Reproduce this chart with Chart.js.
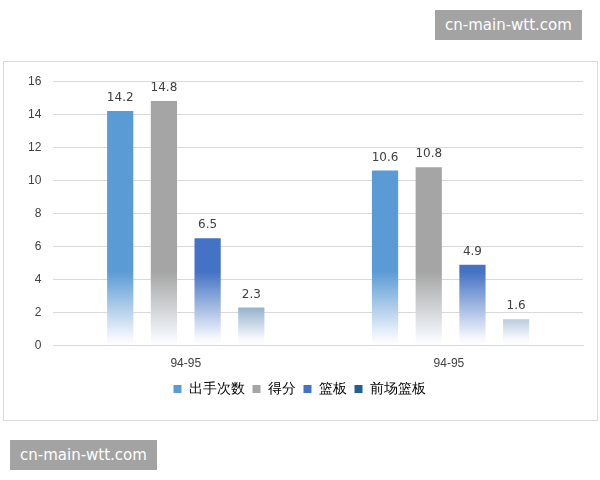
<!DOCTYPE html>
<html>
<head>
<meta charset="utf-8">
<script src="https://cdn.jsdelivr.net/npm/chart.js@4"></script>
<style>
body{margin:0;background:#fff;width:600px;height:480px;position:relative;font-family:"Noto Sans CJK SC","DejaVu Sans",sans-serif}
#box{position:absolute;left:3px;top:61px;width:593px;height:358px;border:1px solid #d9d9d9}
.wm{position:absolute;background:#9a9a9a;color:#fff;font:15px "DejaVu Sans",sans-serif;padding:6px 10px;opacity:.9}
</style>
</head>
<body>
<div id="box"><canvas id="c" width="593" height="358"></canvas></div>
<div class="wm" style="left:435px;top:10px">cn-main-wtt.com</div>
<div class="wm" style="left:10px;top:440px">cn-main-wtt.com</div>
<script>
//data
let categories = ['94-95', '94-95 ']
let seriesNames = ['出手次数', '得分', '篮板', '前场篮板']
let shots = [14.2, 10.6]
let points = [14.8, 10.8]
let rebounds = [6.5, 4.9]
let offRebounds = [2.3, 1.6]
let colors = ['#5b9bd5', '#a5a5a5', '#4472c4', '#255e91']

const fade = (color) => (context) => {
	let chart = context.chart
	let area = chart.chartArea
	if (!area) return color
	let g = chart.ctx.createLinearGradient(0, area.top, 0, area.bottom)
	g.addColorStop(0, color)
	g.addColorStop(0.72, color)
	g.addColorStop(0.97, '#f4f7fc')
	g.addColorStop(1, '#ffffff')
	return g
}

const valueLabels = {
	id: 'valueLabels',
	afterDatasetsDraw(chart) {
		let ctx = chart.ctx
		ctx.save()
		ctx.font = '12px "DejaVu Sans", sans-serif'
		ctx.fillStyle = '#404040'
		ctx.textAlign = 'center'
		chart.data.datasets.forEach((ds, i) => {
			chart.getDatasetMeta(i).data.forEach((bar, j) => {
				ctx.fillText(ds.data[j], bar.x, bar.y - 13)
			})
		})
		ctx.restore()
	}
}

let allSeries = [shots, points, rebounds, offRebounds]
new Chart(document.getElementById('c'), {
	type: 'bar',
	data: {
		labels: categories,
		datasets: allSeries.map((d, i) => ({
			label: seriesNames[i],
			data: d,
			backgroundColor: fade(colors[i]),
			borderWidth: 0
		}))
	},
	options: {
		responsive: false,
		animation: false,
		layout: {padding: {left: 12, right: 14, top: 18, bottom: 14}},
		categoryPercentage: 0.66,
		barPercentage: 0.6,
		plugins: {
			legend: {
				position: 'bottom',
				labels: {boxWidth: 8, boxHeight: 8, color: '#404040', font: {size: 14}, padding: 8,
					generateLabels: (chart) => seriesNames.map((n, i) => ({text: n, fillStyle: colors[i], strokeStyle: colors[i], lineWidth: 0, datasetIndex: i}))}
			},
			tooltip: {enabled: false}
		},
		scales: {
			x: {grid: {display: false}, border: {color: '#d9d9d9'}, ticks: {color: '#404040', font: {size: 12}}},
			y: {min: 0, max: 16, ticks: {stepSize: 2, color: '#404040', font: {size: 12}, padding: 12},
				grid: {color: '#d9d9d9', drawTicks: false}, border: {display: false}}
		}
	},
	plugins: [valueLabels]
})
</script>
</body>
</html>
